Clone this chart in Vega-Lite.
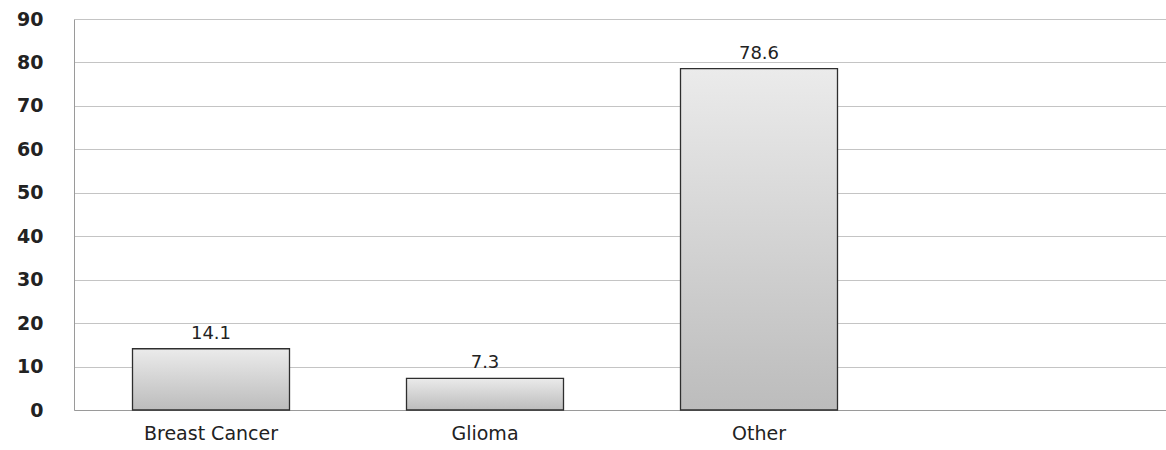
{
  "$schema": "https://vega.github.io/schema/vega-lite/v6.json",
  "autosize": "none",
  "width": 1096,
  "height": 391,
  "padding": {"left": 74, "top": 19, "right": 0, "bottom": 40},
  "background": "white",
  "config": {"view": {"stroke": null}},
  "data": {
    "values": [
      {"category": "Breast Cancer", "value": 14.1},
      {"category": "Glioma", "value": 7.3},
      {"category": "Other", "value": 78.6}
    ]
  },
  "encoding": {
    "x": {
      "field": "category",
      "type": "nominal",
      "sort": null,
      "scale": {"domain": ["Breast Cancer", "Glioma", "Other", " "], "paddingInner": 0.427, "paddingOuter": 0.2135},
      "axis": {
        "title": null,
        "labelAngle": 0,
        "ticks": false,
        "domainColor": "#9a9a9a",
        "labelFont": "DejaVu Sans",
        "labelFontSize": 19,
        "labelColor": "#222222",
        "labelPadding": 14
      }
    },
    "y": {
      "field": "value",
      "type": "quantitative",
      "scale": {"domain": [0, 90], "nice": false},
      "axis": {
        "title": null,
        "values": [0, 10, 20, 30, 40, 50, 60, 70, 80, 90],
        "ticks": false,
        "domainColor": "#9a9a9a",
        "gridColor": "#c4c4c4",
        "gridWidth": 1.2,
        "labelFont": "DejaVu Sans",
        "labelFontSize": 19,
        "labelFontWeight": "bold",
        "labelColor": "#222222",
        "labelPadding": 31
      }
    }
  },
  "layer": [
    {
      "mark": {
        "type": "bar",
        "fill": {
          "gradient": "linear",
          "x1": 0, "y1": 0, "x2": 0, "y2": 1,
          "stops": [
            {"offset": 0, "color": "#ebebeb"},
            {"offset": 1, "color": "#bcbcbc"}
          ]
        },
        "stroke": "#2e2e2e",
        "strokeWidth": 1.3
      }
    },
    {
      "mark": {
        "type": "text",
        "baseline": "alphabetic",
        "dy": -10,
        "font": "DejaVu Sans",
        "fontSize": 18,
        "color": "#222222"
      },
      "encoding": {
        "text": {"field": "value", "type": "quantitative", "format": ".1f"}
      }
    }
  ]
}
